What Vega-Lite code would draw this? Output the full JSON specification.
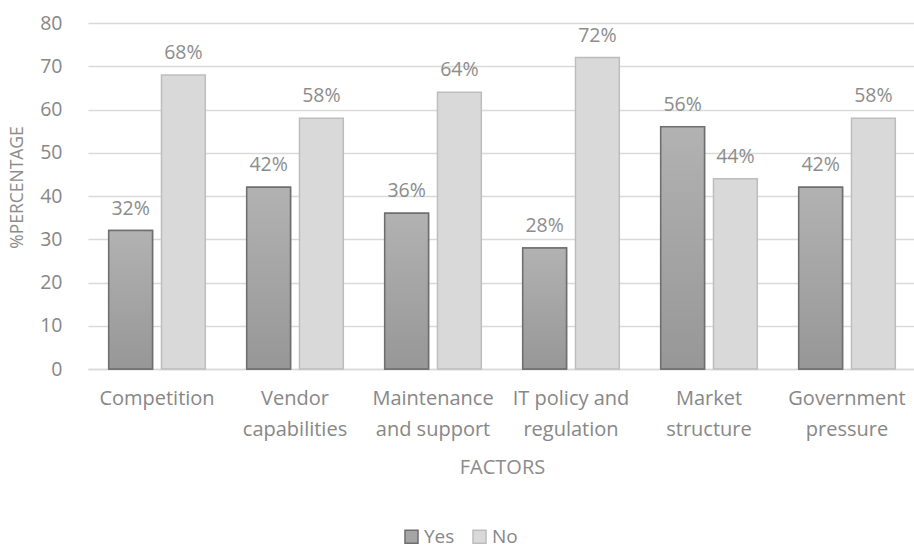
{
  "$schema": "https://vega.github.io/schema/vega-lite/v6.json",
  "autosize": {"type": "none"},
  "width": 828,
  "height": 346,
  "padding": {"left": 88, "top": 23, "right": 0, "bottom": 179},
  "background": "white",
  "config": {
    "view": {"stroke": null},
    "font": "Open Sans",
    "axis": {"labelFont": "Open Sans", "titleFont": "Open Sans", "labelColor": "#878787", "titleColor": "#8c8c8c", "titleFontWeight": "normal"},
    "legend": {"labelFont": "Open Sans"}
  },
  "data": {
    "values": [
      {"factor": "Competition", "group": "Yes", "value": 32},
      {"factor": "Competition", "group": "No", "value": 68},
      {"factor": "Vendor capabilities", "group": "Yes", "value": 42},
      {"factor": "Vendor capabilities", "group": "No", "value": 58},
      {"factor": "Maintenance and support", "group": "Yes", "value": 36},
      {"factor": "Maintenance and support", "group": "No", "value": 64},
      {"factor": "IT policy and regulation", "group": "Yes", "value": 28},
      {"factor": "IT policy and regulation", "group": "No", "value": 72},
      {"factor": "Market structure", "group": "Yes", "value": 56},
      {"factor": "Market structure", "group": "No", "value": 44},
      {"factor": "Government pressure", "group": "Yes", "value": 42},
      {"factor": "Government pressure", "group": "No", "value": 58}
    ]
  },
  "transform": [{"calculate": "datum.value + '%'", "as": "label"}],
  "encoding": {
    "x": {
      "field": "factor",
      "type": "nominal",
      "sort": null,
      "scale": {"paddingInner": 0.3, "paddingOuter": 0.15},
      "axis": {
        "title": "FACTORS",
        "titleFontSize": 20,
        "titlePadding": 18,
        "labelAngle": 0,
        "labelFontSize": 20,
        "labelLineHeight": 31,
        "labelPadding": 19,
        "labelOverlap": false,
        "labelExpr": "datum.value == 'Competition' ? 'Competition' : datum.value == 'Vendor capabilities' ? ['Vendor', 'capabilities'] : datum.value == 'Maintenance and support' ? ['Maintenance', 'and support'] : datum.value == 'IT policy and regulation' ? ['IT policy and', 'regulation'] : datum.value == 'Market structure' ? ['Market', 'structure'] : ['Government', 'pressure']",
        "ticks": false,
        "domainColor": "#d9d9d9",
        "domainWidth": 1.5
      }
    },
    "xOffset": {"field": "group", "type": "nominal", "sort": ["Yes", "No"], "scale": {"paddingInner": 0.17, "paddingOuter": 0}},
    "y": {
      "field": "value",
      "type": "quantitative",
      "scale": {"domain": [0, 80]},
      "axis": {
        "title": "%PERCENTAGE",
        "titleFontSize": 17.5,
        "titleX": -62,
        "titleY": 164,
        "titleAlign": "center",
        "values": [0, 10, 20, 30, 40, 50, 60, 70, 80],
        "labelOverlap": false,
        "labelFontSize": 19.5,
        "labelPadding": 26,
        "ticks": false,
        "domain": false,
        "gridColor": "#d9d9d9",
        "gridWidth": 1.3
      }
    }
  },
  "layer": [
    {
      "mark": {"type": "bar", "strokeWidth": 1.5},
      "encoding": {
        "color": {
          "field": "group",
          "type": "nominal",
          "sort": ["Yes", "No"],
          "scale": {"domain": ["Yes", "No"], "range": ["#a5a5a5", "#d9d9d9"]},
          "legend": {
            "title": null,
            "orient": "none",
            "direction": "horizontal",
            "legendX": 314,
            "legendY": 504,
            "symbolType": "square",
            "symbolSize": 170,
            "symbolStrokeWidth": 1.5,
            "labelFontSize": 19,
            "labelColor": "#878787",
            "columnPadding": 14,
            "labelOffset": 3
          }
        },
        "stroke": {
          "field": "group",
          "type": "nominal",
          "sort": ["Yes", "No"],
          "scale": {"domain": ["Yes", "No"], "range": ["#6e6e6e", "#bdbdbd"]},
          "legend": null
        }
      }
    },
    {
      "transform": [{"filter": "datum.group == 'Yes'"}],
      "mark": {
        "type": "bar",
        "stroke": "#6e6e6e",
        "strokeWidth": 1.5,
        "fill": {
          "gradient": "linear",
          "x1": 0, "y1": 0, "x2": 0, "y2": 1,
          "stops": [
            {"offset": 0, "color": "#b2b2b2"},
            {"offset": 1, "color": "#979797"}
          ]
        }
      }
    },
    {
      "mark": {"type": "text", "baseline": "alphabetic", "dy": -16, "fontSize": 19.5, "color": "#8c8c8c"},
      "encoding": {"text": {"field": "label"}}
    }
  ]
}
